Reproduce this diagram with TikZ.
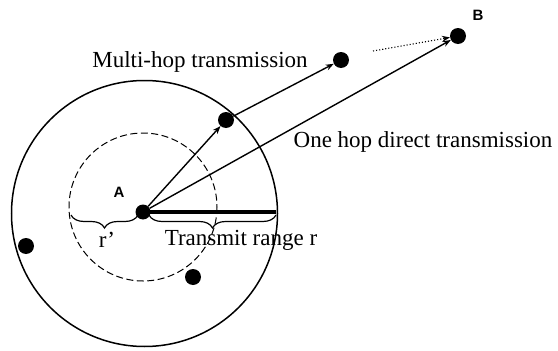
\documentclass[tikz,border=0pt]{standalone}
\usepackage{fontspec}
\setmainfont{Liberation Serif}
\newfontfamily\labfont{Liberation Sans}
\usetikzlibrary{arrows.meta,decorations.pathreplacing}
\tikzset{
  dot/.style={circle,fill=black,inner sep=0pt,minimum size=#1},
  dot/.default=15pt,
  conn/.style={line width=1.4pt,-{Stealth[length=8pt,width=6pt]}},
  lbl/.style={font=\fontsize{23}{26}\selectfont,inner sep=0pt},
  nlbl/.style={font=\labfont\bfseries\fontsize{15}{17}\selectfont,inner sep=0pt},
  brc/.style={decorate,decoration={brace,amplitude=13pt},line width=1.2pt}
}
\begin{document}
\begin{tikzpicture}[x=1pt,y=-1pt]
\useasboundingbox (0,0) rectangle (558,351);
% circles
\draw[line width=1.5pt] (144.5,213.5) circle[radius=133];
\draw[dashed,line width=1pt,dash pattern=on 7pt off 3.5pt] (143,207) circle[radius=74];
% nodes
\node[dot] (A) at (143,212) {};
\node[dot=16pt] (R) at (226,120) {};
\node[dot=16pt] (M) at (341,60) {};
\node[dot=16pt] (B) at (458,36) {};
\node[dot=16pt] (L) at (26,246) {};
\node[dot=16pt] (D) at (193,277) {};
\coordinate (E) at (276,212);
\coordinate (S) at (373,51);
% labels
\node[nlbl] (la) at (119,192) {A};
\node[nlbl] (lb) at (478,15) {B};
\node[lbl] (t1) at (200,62) {Multi-hop transmission};
\node[lbl] (t2) at (423,142) {One hop direct transmission};
\node[lbl] (t3) at (241,240) {Transmit range r};
\node[lbl] (t4) at (107,240) {r’};
% connectors
\draw[conn] (A) -- (R);
\draw[conn] (R) -- (M);
\draw[conn] (A) -- (B);
\draw[dotted,line width=1.1pt,-{Stealth[length=8pt,width=6pt]}] (S) -- (B);
\draw[line width=3.2pt] (A.center) -- (E);
% braces
\draw[brc] (276,215) -- (149,215);
\draw[brc] (138,215) -- (71,215);
\end{tikzpicture}
\end{document}
